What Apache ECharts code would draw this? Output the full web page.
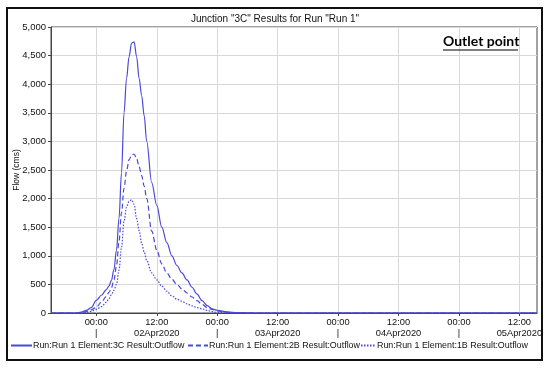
<!DOCTYPE html>
<html>
<head>
<meta charset="utf-8">
<script src="https://cdn.jsdelivr.net/npm/echarts@6/dist/echarts.min.js"></script>
<style>html,body{margin:0;padding:0;background:#fff}#c{width:550px;height:369px}</style>
</head>
<body>
<div id="c"></div>
<script>
// hours since 01Apr2020 00:00
var hours = [15, 18, 20, 21, 22, 23, 24, 25, 26, 26.5, 27, 27.5, 28, 28.5, 29, 29.5, 30, 30.5, 31, 31.5, 32, 32.5, 33, 33.5, 34, 35, 36, 37, 38, 39, 40, 41, 42, 43, 44, 45, 46, 47, 48, 50, 52, 56, 111.5];
var flow3C = [0, 0, 0, 15, 45, 95, 220, 310, 410, 470, 570, 760, 1100, 1650, 2450, 3500, 4100, 4480, 4720, 4740, 4480, 4100, 3800, 3450, 3000, 2280, 1880, 1500, 1230, 1000, 830, 700, 580, 450, 330, 215, 130, 72, 45, 18, 5, 0, 0];
var flow2B = [0, 0, 0, 8, 25, 55, 100, 190, 290, 360, 440, 580, 820, 1250, 1750, 2180, 2480, 2680, 2760, 2780, 2700, 2560, 2400, 2220, 2000, 1430, 1100, 860, 700, 590, 500, 420, 350, 280, 215, 150, 95, 65, 35, 10, 2, 0, 0];
var flow1B = [0, 0, 0, 0, 10, 30, 65, 110, 190, 250, 320, 400, 500, 750, 1150, 1600, 1850, 1950, 1980, 1900, 1650, 1440, 1220, 1070, 920, 700, 580, 470, 380, 300, 240, 205, 160, 125, 95, 72, 45, 25, 10, 3, 0, 0, 0];
var seriesNames = ['Run:Run 1 Element:3C Result:Outflow', 'Run:Run 1 Element:2B Result:Outflow', 'Run:Run 1 Element:1B Result:Outflow'];
var xTicks = [24, 36, 48, 60, 72, 84, 96, 108];
var titleText = 'Junction "3C" Results for Run "Run 1"';
var yName = 'Flow (cms)';
var noteText = 'Outlet point';

function pairs(vals) { return hours.map(function (h, i) { return [h, vals[i]]; }); }
var lineColor = '#4a4ad8';
var fontFam = '"Liberation Sans", Arial, sans-serif';

var chart = echarts.init(document.getElementById('c'), null, { renderer: 'canvas' });
function mk(name, vals, type) {
  return {
    name: name, type: 'line', data: pairs(vals), showSymbol: false, symbol: 'none',
    smooth: 0.35, smoothMonotone: 'x',
    lineStyle: { color: lineColor, width: 1.2, type: type },
    itemStyle: { color: lineColor }
  };
}
function lg(name, left, w) {
  return {
    top: 341, left: left, padding: 0, itemWidth: w, itemHeight: 8,
    itemStyle: { opacity: 0 },
    textStyle: { fontFamily: fontFam, fontSize: 8.9, color: '#111', padding: [0, 0, 0, -4] },
    data: [name]
  };
}
chart.setOption({
  animation: false,
  backgroundColor: '#fff',
  title: {
    text: titleText, left: 'center', top: 9,
    textStyle: { fontFamily: fontFam, fontSize: 10, fontWeight: 'normal', color: '#111' }
  },
  grid: { left: 51, right: 13, top: 27, bottom: 56, show: true, borderColor: '#444', borderWidth: 1, containLabel: false, outerBoundsMode: 'none' },
  legend: [lg(seriesNames[0], 10, 21), lg(seriesNames[1], 187, 20), lg(seriesNames[2], 360, 15)],
  xAxis: {
    type: 'value', min: 15, max: 111.5,
    axisLine: { show: true, lineStyle: { color: '#444' } },
    axisTick: { show: true, customValues: xTicks, length: 3, lineStyle: { color: '#444' } },
    axisLabel: {
      customValues: xTicks, fontFamily: fontFam, fontSize: 9.3, color: '#111', lineHeight: 11, margin: 4,
      formatter: function (v) {
        if (v % 24 === 0) return '00:00\n|';
        var d = Math.floor(v / 24) + 1;
        return '12:00\n' + (d < 10 ? '0' + d : d) + 'Apr2020';
      }
    },
    splitLine: { show: true, lineStyle: { color: '#d8d8d8', width: 1 } }
  },
  yAxis: {
    type: 'value', min: 0, max: 5000, interval: 500,
    name: yName, nameLocation: 'middle', nameGap: 30, nameRotate: 90, nameMoveOverlap: false,
    nameTextStyle: { fontFamily: fontFam, fontSize: 8.5, color: '#111' },
    axisLine: { show: true, lineStyle: { color: '#444' } },
    axisTick: { show: true, length: 3, lineStyle: { color: '#444' } },
    axisLabel: {
      fontFamily: fontFam, fontSize: 9.5, color: '#111', margin: 5,
      formatter: function (v) { return v.toLocaleString('en-US'); }
    },
    splitLine: { show: true, lineStyle: { color: '#d8d8d8', width: 1 } }
  },
  series: [mk(seriesNames[0], flow3C, 'solid'), mk(seriesNames[1], flow2B, [5, 3]), mk(seriesNames[2], flow1B, [1.5, 1.5])],
  graphic: [
    { type: 'rect', shape: { x: 7, y: 8, width: 535, height: 352 }, style: { fill: 'none', stroke: '#111', lineWidth: 2 }, z: 100 },
    { type: 'text', x: 443, y: 34, style: { text: noteText, fontFamily: '"Lato", "Open Sans", sans-serif', fontWeight: 'bold', fontSize: 14, fill: '#000' }, z: 100 },
    { type: 'line', shape: { x1: 443, y1: 50, x2: 518, y2: 50 }, style: { stroke: '#000', lineWidth: 1.2 }, z: 100 }
  ]
});
</script>
</body>
</html>
